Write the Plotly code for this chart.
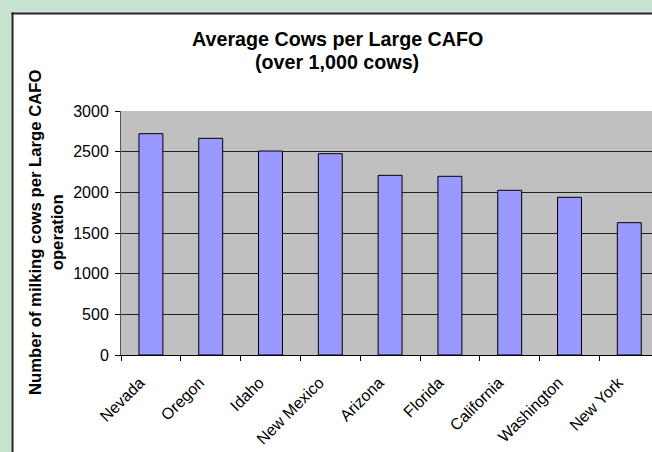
import plotly.graph_objects as go

states = ["Nevada", "Oregon", "Idaho", "New Mexico", "Arizona", "Florida",
          "California", "Washington", "New York"]
avg_cows = [2721, 2664, 2508, 2475, 2209, 2197, 2025, 1939, 1627]
y_ticks = [0, 500, 1000, 1500, 2000, 2500, 3000]
title_lines = ["Average Cows per Large CAFO", "(over 1,000 cows)"]
y_title = "Number of milking cows per Large CAFO<br>operation"

W, H = 652, 452
L, R, T, B = 121, 0, 111, 97
pw, ph = W - L - R, H - T - B

def px_x(p):
    return (p - L) / pw

def px_y(p):
    return (H - B - p) / ph

FONT = "Arial, Liberation Sans, sans-serif"
GREEN = "#C6E4CF"

fig = go.Figure()
fig.add_trace(go.Bar(
    x=states, y=avg_cows,
    marker=dict(color="#9999FF", line=dict(color="#000000", width=1)),
    width=0.4,
))

# green surround (top and left strips) and the black chart-area border
shapes = [
    dict(type="rect", xref="paper", yref="paper",
         x0=px_x(-5), x1=px_x(W + 5), y0=px_y(12.5), y1=px_y(-5),
         fillcolor=GREEN, line=dict(width=0), layer="below"),
    dict(type="rect", xref="paper", yref="paper",
         x0=px_x(-5), x1=px_x(11.5), y0=px_y(H + 5), y1=px_y(-5),
         fillcolor=GREEN, line=dict(width=0), layer="below"),
    dict(type="line", xref="paper", yref="paper",
         x0=px_x(11.5), x1=px_x(W + 5), y0=px_y(13.5), y1=px_y(13.5),
         line=dict(color="#222222", width=2), layer="below"),
    dict(type="line", xref="paper", yref="paper",
         x0=px_x(12.5), x1=px_x(12.5), y0=px_y(12.5), y1=px_y(H + 5),
         line=dict(color="#222222", width=2), layer="below"),
]

annotations = [
    dict(text="<b>%s</b>" % title_lines[0], xref="paper", yref="paper",
         x=px_x(337), y=px_y(39), xanchor="center", yanchor="middle",
         showarrow=False, font=dict(family=FONT, size=19.7, color="black")),
    dict(text="<b>%s</b>" % title_lines[1], xref="paper", yref="paper",
         x=px_x(337), y=px_y(62), xanchor="center", yanchor="middle",
         showarrow=False, font=dict(family=FONT, size=19.7, color="black")),
    dict(text="<b>%s</b>" % y_title, xref="paper", yref="paper",
         x=px_x(46), y=0.5, xanchor="center", yanchor="middle",
         textangle=-90, showarrow=False,
         font=dict(family=FONT, size=16.7, color="black")),
]

fig.update_layout(
    width=W, height=H,
    margin=dict(l=L, r=R, t=T, b=B, pad=0),
    paper_bgcolor="white",
    plot_bgcolor="#C0C0C0",
    showlegend=False,
    shapes=shapes,
    annotations=annotations,
    font=dict(family=FONT, size=16, color="black"),
    xaxis=dict(
        type="category", range=[-0.5, -0.5 + pw / 59.8],
        tickangle=-45, tickson="boundaries", ticks="outside", ticklen=5,
        tickcolor="black", showline=True, linecolor="black", linewidth=1,
        showgrid=False, tickfont=dict(size=16), fixedrange=True,
        ticklabelshift=-11, ticklabelstandoff=11,
    ),
    yaxis=dict(
        range=[0, 3000], tickvals=y_ticks, ticks="outside", ticklen=5,
        tickcolor="black", showline=True, linecolor="#555555", linewidth=1,
        showgrid=True, gridcolor="#222222", gridwidth=1, zeroline=False,
        tickfont=dict(size=16), fixedrange=True, ticklabelstandoff=3,
    ),
)

fig.write_html("out.html")
